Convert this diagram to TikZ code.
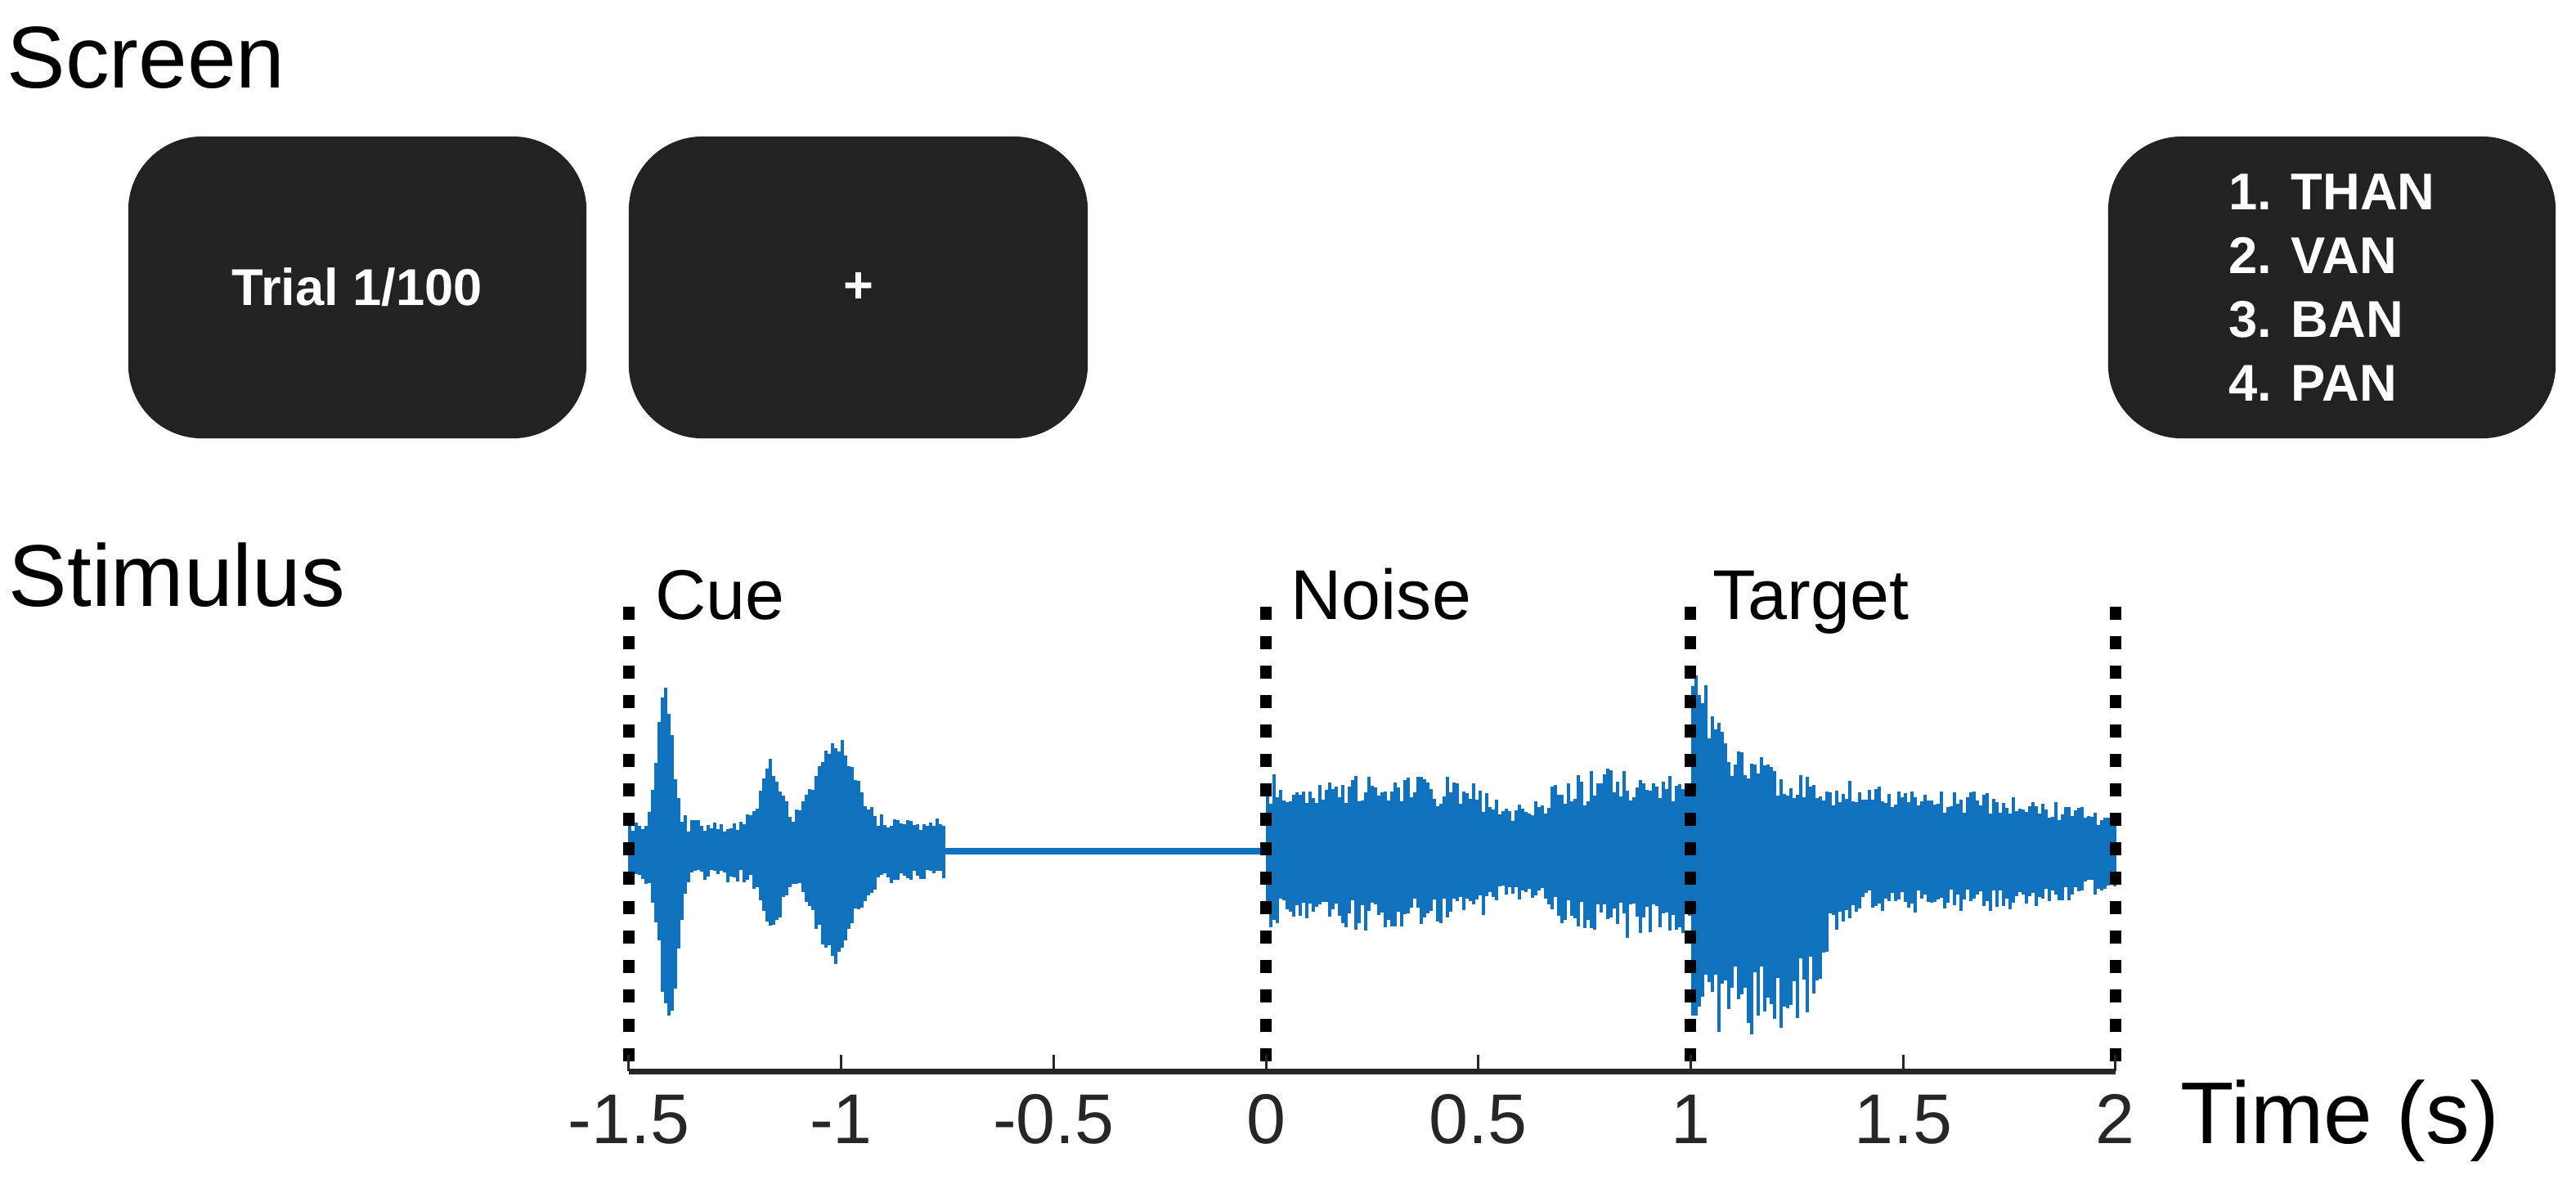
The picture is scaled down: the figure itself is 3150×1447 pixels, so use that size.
\documentclass[tikz,border=0pt]{standalone}
\usepackage{fontspec}
\setmainfont{Liberation Sans}
\definecolor{wave}{RGB}{16,114,189}
\definecolor{screenbg}{RGB}{34,34,34}
\definecolor{axisgray}{RGB}{38,38,38}

\begin{document}
\begin{tikzpicture}[
  x=0.01cm, y=-0.01cm,
  declare function={bump(\u,\c,\w)=exp(-min(((\u-\c)/\w)^2,30));},
  screen/.style={fill=screenbg, rounded corners=0.9cm, text=white, minimum height=3.69cm,
    font=\bfseries\fontsize{18}{22.2}\selectfont},
  head/.style={anchor=base west, inner sep=0pt, font=\fontsize{30.5}{36}\selectfont},
  seg/.style={anchor=base west, inner sep=0pt, font=\fontsize{24.5}{29}\selectfont},
  ticklab/.style={anchor=base, inner sep=0pt, text=axisgray, font=\fontsize{24.5}{29}\selectfont},
  strip/.style={wave, line width=0.045cm},
  cut/.style={line width=0.14cm, dash pattern=on 0.16cm off 0.2cm},
  axisline/.style={axisgray, line width=0.07cm},
  tickline/.style={axisgray, line width=0.03cm}
]
\useasboundingbox (0,0) rectangle (3150,1447);

% screens
\node[head] (screenlbl) at (8,107) {Screen};
\node[screen, minimum width=5.6cm] (trial) at (437,351.5) {Trial 1/100};
\node[screen, minimum width=5.61cm] (fix) at (1049.5,351.5) {+};
\node[screen, minimum width=5.47cm, align=left] (resp) at (2851.5,351.5)
  {1. THAN\\2. VAN\\3. BAN\\4. PAN};

% stimulus waveform
\node[head] (stimlbl) at (10,741) {Stimulus};
\pgfmathsetseed{7}
\foreach \x in {770,774,...,1156}{
  \pgfmathsetmacro\up{42*(0.55+0.45*rnd)+(170*bump(\x,813,13)+77*bump(\x,942,17)+103*bump(\x,1022,32))*(0.9+0.1*rnd)}
  \pgfmathsetmacro\dn{40*(0.55+0.45*rnd)+(185*bump(\x,818,14)+64*bump(\x,944,17)+100*bump(\x,1020,32))*(0.9+0.1*rnd)}
  \draw[strip] (\x,1041-\up) -- (\x,1041+\dn);
}
\draw[wave, line width=0.08cm] (1156,1041) -- (1549,1041);
\foreach \x in {1550,1554,...,2066}{
  \pgfmathsetmacro\env{95-32*bump(\x,1855,50)+8*bump(\x,1990,60)}
  \pgfmathsetmacro\up{\env*(0.58+0.42*rnd)}
  \pgfmathsetmacro\dn{(\env+3)*(0.58+0.42*rnd)}
  \draw[strip] (\x,1041-\up) -- (\x,1041+\dn);
}
\foreach \x in {2070,2074,...,2586}{
  \pgfmathsetmacro\up{(70+130*exp(-(\x-2068)/22)+95*exp(-(\x-2068)/110)-22*bump(\x,2590,90))*(0.62+0.38*rnd)}
  \pgfmathsetmacro\dn{(75+150/(1+exp(min((\x-2228)/12,9)))-22*bump(\x,2590,90))*(0.62+0.38*rnd)}
  \draw[strip] (\x,1041-\up) -- (\x,1041+\dn);
}

% segment borders
\coordinate (cuetop) at (769,742);   \coordinate (cuebot) at (769,1310);
\coordinate (noisetop) at (1548,742); \coordinate (noisebot) at (1548,1310);
\coordinate (targettop) at (2067,742); \coordinate (targetbot) at (2067,1310);
\coordinate (endtop) at (2587,742);   \coordinate (endbot) at (2587,1310);
\foreach \nm in {cue,noise,target,end}
  \draw[cut] (\nm top) -- (\nm bot);
\node[seg] (cuelbl) at (801,757) {Cue};
\node[seg] (noiselbl) at (1578,757) {Noise};
\node[seg] (targetlbl) at (2094,757) {Target};

% time axis
\draw[axisline] (cuebot) -- (endbot);
\foreach \t [count=\i] in {-1.5,-1,-0.5,0,0.5,1,1.5,2}{
  \coordinate (tick\i) at ({1548+519.4*\t},1310);
  \draw[tickline] (tick\i) -- ++(0,-20);
  \node[ticklab] (lab\i) at ({1548+519.4*\t},1398) {\t};
}
\node[head] (timelbl) at (2666,1398) {Time (s)};
\end{tikzpicture}
\end{document}
